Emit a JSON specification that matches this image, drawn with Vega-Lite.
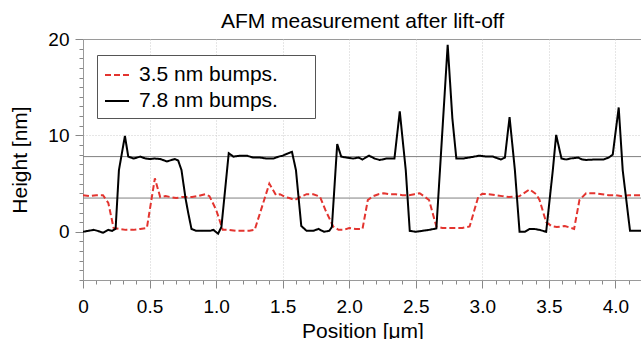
{
  "$schema": "https://vega.github.io/schema/vega-lite/v6.json",
  "width": 559,
  "height": 241,
  "autosize": {"type": "none"},
  "padding": {"left": 83, "top": 39, "right": 0, "bottom": 59},
  "background": "white",
  "title": {"text": "AFM measurement after lift-off", "fontSize": 21, "font": "Liberation Sans", "fontWeight": "normal", "color": "black", "offset": -2, "anchor": "middle"},
  "config": {
    "view": {"stroke": "#9a9a9a", "strokeWidth": 1},
    "font": "Liberation Sans",
    "axis": {"domainColor": "#9a9a9a", "tickColor": "#888888", "labelColor": "black", "labelFontSize": 19, "titleFontSize": 21, "titleFontWeight": "normal", "titleColor": "black", "gridColor": "#cccccc", "gridDash": [1, 2], "gridWidth": 1}
  },
  "datasets": {
    "ref": [{"y": 7.8}, {"y": 3.5}],
    "profiles": [
      {"series": "3.5 nm bumps.", "x": 0, "y": 3.8},
      {"series": "3.5 nm bumps.", "x": 0.05, "y": 3.7},
      {"series": "3.5 nm bumps.", "x": 0.1, "y": 3.8},
      {"series": "3.5 nm bumps.", "x": 0.15, "y": 3.8},
      {"series": "3.5 nm bumps.", "x": 0.19, "y": 3.0},
      {"series": "3.5 nm bumps.", "x": 0.23, "y": 0.4},
      {"series": "3.5 nm bumps.", "x": 0.27, "y": 0.3},
      {"series": "3.5 nm bumps.", "x": 0.32, "y": 0.2},
      {"series": "3.5 nm bumps.", "x": 0.38, "y": 0.2},
      {"series": "3.5 nm bumps.", "x": 0.43, "y": 0.3},
      {"series": "3.5 nm bumps.", "x": 0.48, "y": 0.4},
      {"series": "3.5 nm bumps.", "x": 0.54, "y": 5.55},
      {"series": "3.5 nm bumps.", "x": 0.58, "y": 3.6},
      {"series": "3.5 nm bumps.", "x": 0.62, "y": 3.7},
      {"series": "3.5 nm bumps.", "x": 0.66, "y": 3.6},
      {"series": "3.5 nm bumps.", "x": 0.7, "y": 3.5},
      {"series": "3.5 nm bumps.", "x": 0.74, "y": 3.6},
      {"series": "3.5 nm bumps.", "x": 0.78, "y": 3.6},
      {"series": "3.5 nm bumps.", "x": 0.82, "y": 3.6},
      {"series": "3.5 nm bumps.", "x": 0.86, "y": 3.7},
      {"series": "3.5 nm bumps.", "x": 0.92, "y": 3.9},
      {"series": "3.5 nm bumps.", "x": 0.95, "y": 3.7},
      {"series": "3.5 nm bumps.", "x": 1.0, "y": 2.3},
      {"series": "3.5 nm bumps.", "x": 1.05, "y": 0.2},
      {"series": "3.5 nm bumps.", "x": 1.1, "y": 0.2},
      {"series": "3.5 nm bumps.", "x": 1.15, "y": 0.1},
      {"series": "3.5 nm bumps.", "x": 1.2, "y": 0.1},
      {"series": "3.5 nm bumps.", "x": 1.25, "y": 0.1},
      {"series": "3.5 nm bumps.", "x": 1.29, "y": 0.2},
      {"series": "3.5 nm bumps.", "x": 1.4, "y": 5.0},
      {"series": "3.5 nm bumps.", "x": 1.45, "y": 3.8},
      {"series": "3.5 nm bumps.", "x": 1.48, "y": 3.9},
      {"series": "3.5 nm bumps.", "x": 1.52, "y": 3.6},
      {"series": "3.5 nm bumps.", "x": 1.55, "y": 3.5},
      {"series": "3.5 nm bumps.", "x": 1.59, "y": 3.3},
      {"series": "3.5 nm bumps.", "x": 1.63, "y": 3.6},
      {"series": "3.5 nm bumps.", "x": 1.68, "y": 3.9},
      {"series": "3.5 nm bumps.", "x": 1.73, "y": 3.9},
      {"series": "3.5 nm bumps.", "x": 1.78, "y": 3.65},
      {"series": "3.5 nm bumps.", "x": 1.82, "y": 2.3},
      {"series": "3.5 nm bumps.", "x": 1.88, "y": 0.55},
      {"series": "3.5 nm bumps.", "x": 1.92, "y": 0.2},
      {"series": "3.5 nm bumps.", "x": 1.96, "y": 0.2},
      {"series": "3.5 nm bumps.", "x": 2.0, "y": 0.4},
      {"series": "3.5 nm bumps.", "x": 2.05, "y": 0.3},
      {"series": "3.5 nm bumps.", "x": 2.1, "y": 0.3},
      {"series": "3.5 nm bumps.", "x": 2.14, "y": 3.3},
      {"series": "3.5 nm bumps.", "x": 2.18, "y": 3.7},
      {"series": "3.5 nm bumps.", "x": 2.22, "y": 3.9},
      {"series": "3.5 nm bumps.", "x": 2.26, "y": 4.0},
      {"series": "3.5 nm bumps.", "x": 2.3, "y": 3.9},
      {"series": "3.5 nm bumps.", "x": 2.35, "y": 3.9},
      {"series": "3.5 nm bumps.", "x": 2.4, "y": 3.8},
      {"series": "3.5 nm bumps.", "x": 2.45, "y": 3.8},
      {"series": "3.5 nm bumps.", "x": 2.49, "y": 3.9},
      {"series": "3.5 nm bumps.", "x": 2.53, "y": 4.0},
      {"series": "3.5 nm bumps.", "x": 2.56, "y": 3.7},
      {"series": "3.5 nm bumps.", "x": 2.6, "y": 3.3},
      {"series": "3.5 nm bumps.", "x": 2.655, "y": 0.55},
      {"series": "3.5 nm bumps.", "x": 2.7, "y": 0.4},
      {"series": "3.5 nm bumps.", "x": 2.75, "y": 0.4},
      {"series": "3.5 nm bumps.", "x": 2.8, "y": 0.4},
      {"series": "3.5 nm bumps.", "x": 2.85, "y": 0.4},
      {"series": "3.5 nm bumps.", "x": 2.905, "y": 0.55},
      {"series": "3.5 nm bumps.", "x": 2.97, "y": 3.65},
      {"series": "3.5 nm bumps.", "x": 3.0, "y": 3.95},
      {"series": "3.5 nm bumps.", "x": 3.05, "y": 3.9},
      {"series": "3.5 nm bumps.", "x": 3.1, "y": 3.8},
      {"series": "3.5 nm bumps.", "x": 3.15, "y": 3.7},
      {"series": "3.5 nm bumps.", "x": 3.2, "y": 3.6},
      {"series": "3.5 nm bumps.", "x": 3.28, "y": 3.7},
      {"series": "3.5 nm bumps.", "x": 3.355, "y": 4.4},
      {"series": "3.5 nm bumps.", "x": 3.405, "y": 3.9},
      {"series": "3.5 nm bumps.", "x": 3.43, "y": 3.3},
      {"series": "3.5 nm bumps.", "x": 3.48, "y": 1.0},
      {"series": "3.5 nm bumps.", "x": 3.52, "y": 0.6},
      {"series": "3.5 nm bumps.", "x": 3.56, "y": 0.5},
      {"series": "3.5 nm bumps.", "x": 3.62, "y": 0.6},
      {"series": "3.5 nm bumps.", "x": 3.69, "y": 0.3},
      {"series": "3.5 nm bumps.", "x": 3.73, "y": 3.3},
      {"series": "3.5 nm bumps.", "x": 3.78, "y": 4.0},
      {"series": "3.5 nm bumps.", "x": 3.85, "y": 4.0},
      {"series": "3.5 nm bumps.", "x": 3.9, "y": 3.9},
      {"series": "3.5 nm bumps.", "x": 3.95, "y": 3.8},
      {"series": "3.5 nm bumps.", "x": 4.0, "y": 3.8},
      {"series": "3.5 nm bumps.", "x": 4.05, "y": 3.7},
      {"series": "3.5 nm bumps.", "x": 4.1, "y": 3.8},
      {"series": "3.5 nm bumps.", "x": 4.15, "y": 3.8},
      {"series": "3.5 nm bumps.", "x": 4.22, "y": 3.8},
      {"series": "7.8 nm bumps.", "x": 0, "y": 0.0},
      {"series": "7.8 nm bumps.", "x": 0.04, "y": 0.1},
      {"series": "7.8 nm bumps.", "x": 0.08, "y": 0.2},
      {"series": "7.8 nm bumps.", "x": 0.11, "y": 0.1},
      {"series": "7.8 nm bumps.", "x": 0.15, "y": -0.1},
      {"series": "7.8 nm bumps.", "x": 0.19, "y": 0.2},
      {"series": "7.8 nm bumps.", "x": 0.22, "y": 0.1},
      {"series": "7.8 nm bumps.", "x": 0.245, "y": 0.3},
      {"series": "7.8 nm bumps.", "x": 0.27, "y": 6.4},
      {"series": "7.8 nm bumps.", "x": 0.315, "y": 9.95},
      {"series": "7.8 nm bumps.", "x": 0.34, "y": 7.8},
      {"series": "7.8 nm bumps.", "x": 0.38, "y": 7.6},
      {"series": "7.8 nm bumps.", "x": 0.43, "y": 7.8},
      {"series": "7.8 nm bumps.", "x": 0.47, "y": 7.6},
      {"series": "7.8 nm bumps.", "x": 0.5, "y": 7.55},
      {"series": "7.8 nm bumps.", "x": 0.54, "y": 7.6},
      {"series": "7.8 nm bumps.", "x": 0.58, "y": 7.55},
      {"series": "7.8 nm bumps.", "x": 0.63, "y": 7.3},
      {"series": "7.8 nm bumps.", "x": 0.69, "y": 7.55},
      {"series": "7.8 nm bumps.", "x": 0.715, "y": 7.4},
      {"series": "7.8 nm bumps.", "x": 0.74, "y": 6.4},
      {"series": "7.8 nm bumps.", "x": 0.77, "y": 3.5},
      {"series": "7.8 nm bumps.", "x": 0.79, "y": 2.0},
      {"series": "7.8 nm bumps.", "x": 0.815, "y": 0.3},
      {"series": "7.8 nm bumps.", "x": 0.85, "y": 0.1},
      {"series": "7.8 nm bumps.", "x": 0.88, "y": 0.1},
      {"series": "7.8 nm bumps.", "x": 0.92, "y": 0.1},
      {"series": "7.8 nm bumps.", "x": 0.955, "y": 0.1},
      {"series": "7.8 nm bumps.", "x": 0.98, "y": 0.2},
      {"series": "7.8 nm bumps.", "x": 1.015, "y": -0.2},
      {"series": "7.8 nm bumps.", "x": 1.04, "y": 0.5},
      {"series": "7.8 nm bumps.", "x": 1.095, "y": 8.15},
      {"series": "7.8 nm bumps.", "x": 1.13, "y": 7.8},
      {"series": "7.8 nm bumps.", "x": 1.18, "y": 7.9},
      {"series": "7.8 nm bumps.", "x": 1.23, "y": 7.9},
      {"series": "7.8 nm bumps.", "x": 1.28, "y": 7.7},
      {"series": "7.8 nm bumps.", "x": 1.33, "y": 7.7},
      {"series": "7.8 nm bumps.", "x": 1.38, "y": 7.6},
      {"series": "7.8 nm bumps.", "x": 1.43, "y": 7.6},
      {"series": "7.8 nm bumps.", "x": 1.47, "y": 7.8},
      {"series": "7.8 nm bumps.", "x": 1.5, "y": 7.9},
      {"series": "7.8 nm bumps.", "x": 1.57, "y": 8.3},
      {"series": "7.8 nm bumps.", "x": 1.6, "y": 6.4},
      {"series": "7.8 nm bumps.", "x": 1.64, "y": 0.6},
      {"series": "7.8 nm bumps.", "x": 1.68, "y": 0.1},
      {"series": "7.8 nm bumps.", "x": 1.73, "y": 0.1},
      {"series": "7.8 nm bumps.", "x": 1.77, "y": 0.3},
      {"series": "7.8 nm bumps.", "x": 1.81, "y": 0.0},
      {"series": "7.8 nm bumps.", "x": 1.85, "y": 0.1},
      {"series": "7.8 nm bumps.", "x": 1.87, "y": 0.5},
      {"series": "7.8 nm bumps.", "x": 1.91, "y": 9.1},
      {"series": "7.8 nm bumps.", "x": 1.94, "y": 7.8},
      {"series": "7.8 nm bumps.", "x": 1.98, "y": 7.7},
      {"series": "7.8 nm bumps.", "x": 2.03, "y": 7.6},
      {"series": "7.8 nm bumps.", "x": 2.07, "y": 7.7},
      {"series": "7.8 nm bumps.", "x": 2.1, "y": 7.5},
      {"series": "7.8 nm bumps.", "x": 2.15, "y": 7.9},
      {"series": "7.8 nm bumps.", "x": 2.19, "y": 7.6},
      {"series": "7.8 nm bumps.", "x": 2.23, "y": 7.45},
      {"series": "7.8 nm bumps.", "x": 2.28, "y": 7.6},
      {"series": "7.8 nm bumps.", "x": 2.34, "y": 7.6},
      {"series": "7.8 nm bumps.", "x": 2.38, "y": 12.5},
      {"series": "7.8 nm bumps.", "x": 2.425, "y": 6.4},
      {"series": "7.8 nm bumps.", "x": 2.455, "y": 0.1},
      {"series": "7.8 nm bumps.", "x": 2.5, "y": 0.0},
      {"series": "7.8 nm bumps.", "x": 2.55, "y": 0.1},
      {"series": "7.8 nm bumps.", "x": 2.6, "y": 0.2},
      {"series": "7.8 nm bumps.", "x": 2.655, "y": 0.35},
      {"series": "7.8 nm bumps.", "x": 2.74, "y": 19.4},
      {"series": "7.8 nm bumps.", "x": 2.775, "y": 11.8},
      {"series": "7.8 nm bumps.", "x": 2.805, "y": 7.6},
      {"series": "7.8 nm bumps.", "x": 2.855, "y": 7.6},
      {"series": "7.8 nm bumps.", "x": 2.9, "y": 7.7},
      {"series": "7.8 nm bumps.", "x": 2.94, "y": 7.8},
      {"series": "7.8 nm bumps.", "x": 2.98, "y": 7.9},
      {"series": "7.8 nm bumps.", "x": 3.03, "y": 7.8},
      {"series": "7.8 nm bumps.", "x": 3.08, "y": 7.8},
      {"series": "7.8 nm bumps.", "x": 3.14, "y": 7.5},
      {"series": "7.8 nm bumps.", "x": 3.17, "y": 7.7},
      {"series": "7.8 nm bumps.", "x": 3.205, "y": 11.9},
      {"series": "7.8 nm bumps.", "x": 3.245, "y": 6.4},
      {"series": "7.8 nm bumps.", "x": 3.28, "y": 0.0},
      {"series": "7.8 nm bumps.", "x": 3.32, "y": 0.0},
      {"series": "7.8 nm bumps.", "x": 3.355, "y": 0.3},
      {"series": "7.8 nm bumps.", "x": 3.39, "y": 0.3},
      {"series": "7.8 nm bumps.", "x": 3.43, "y": 0.2},
      {"series": "7.8 nm bumps.", "x": 3.48, "y": 0.0},
      {"series": "7.8 nm bumps.", "x": 3.53, "y": 6.4},
      {"series": "7.8 nm bumps.", "x": 3.555, "y": 10.05},
      {"series": "7.8 nm bumps.", "x": 3.595, "y": 7.6},
      {"series": "7.8 nm bumps.", "x": 3.63, "y": 7.5},
      {"series": "7.8 nm bumps.", "x": 3.66, "y": 7.6},
      {"series": "7.8 nm bumps.", "x": 3.72, "y": 7.7},
      {"series": "7.8 nm bumps.", "x": 3.75, "y": 7.5},
      {"series": "7.8 nm bumps.", "x": 3.78, "y": 7.45},
      {"series": "7.8 nm bumps.", "x": 3.84, "y": 7.5},
      {"series": "7.8 nm bumps.", "x": 3.91, "y": 7.5},
      {"series": "7.8 nm bumps.", "x": 3.95, "y": 7.7},
      {"series": "7.8 nm bumps.", "x": 3.98, "y": 8.0},
      {"series": "7.8 nm bumps.", "x": 4.025, "y": 12.9},
      {"series": "7.8 nm bumps.", "x": 4.055, "y": 6.4},
      {"series": "7.8 nm bumps.", "x": 4.11, "y": 0.1},
      {"series": "7.8 nm bumps.", "x": 4.15, "y": 0.1},
      {"series": "7.8 nm bumps.", "x": 4.22, "y": 0.1}
    ]
  },
  "encoding": {
    "y": {
      "field": "y",
      "type": "quantitative",
      "scale": {"domain": [-5, 20], "nice": false, "zero": false},
      "axis": {
        "title": "Height [nm]",
        "values": [-5, -4, -3, -2, -1, 0, 1, 2, 3, 4, 5, 6, 7, 8, 9, 10, 11, 12, 13, 14, 15, 16, 17, 18, 19, 20],
        "labelExpr": "datum.value % 10 == 0 ? datum.label : ''",
        "tickSize": {"condition": {"test": "datum.value % 10 == 0", "value": 8}, "value": 4},
        "labelPadding": 6,
        "titlePadding": 17,
        "gridOpacity": {"condition": {"test": "datum.value == 10", "value": 1}, "value": 0}
      }
    }
  },
  "layer": [
    {
      "data": {"name": "ref"},
      "mark": {"type": "rule", "color": "#808080", "strokeWidth": 1}
    },
    {
      "data": {"name": "profiles"},
      "mark": {"type": "line", "strokeWidth": 2, "clip": true},
      "encoding": {
        "x": {
          "field": "x",
          "type": "quantitative",
          "scale": {"domain": [0, 4.2], "nice": false, "zero": false},
          "axis": {
            "title": "Position [μm]",
            "values": [0, 0.1, 0.2, 0.3, 0.4, 0.5, 0.6, 0.7, 0.8, 0.9, 1.0, 1.1, 1.2, 1.3, 1.4, 1.5, 1.6, 1.7, 1.8, 1.9, 2.0, 2.1, 2.2, 2.3, 2.4, 2.5, 2.6, 2.7, 2.8, 2.9, 3.0, 3.1, 3.2, 3.3, 3.4, 3.5, 3.6, 3.7, 3.8, 3.9, 4.0, 4.1, 4.2],
            "labelExpr": "abs(datum.value * 2 - round(datum.value * 2)) < 0.001 ? (datum.value == 0 ? '0' : format(datum.value, '.1f')) : ''",
            "tickSize": {"condition": {"test": "abs(datum.value * 2 - round(datum.value * 2)) < 0.001", "value": 8}, "value": 4},
            "labelPadding": 9,
            "titlePadding": 4,
            "labelFlush": false,
            "labelOverlap": false,
            "gridOpacity": {"condition": {"test": "abs(datum.value * 2 - round(datum.value * 2)) < 0.001 && datum.value > 0", "value": 1}, "value": 0}
          }
        },
        "color": {
          "field": "series",
          "type": "nominal",
          "scale": {"domain": ["3.5 nm bumps.", "7.8 nm bumps."], "range": ["#e3342f", "#000000"]},
          "legend": {
            "orient": "none",
            "legendX": 14,
            "legendY": 16,
            "title": null,
            "strokeColor": "#555555",
            "fillColor": "white",
            "padding": 7,
            "rowPadding": 3,
            "labelFontSize": 21,
            "labelFont": "Liberation Sans",
            "labelColor": "black",
            "labelOffset": 9,
            "labelLimit": 400,
            "symbolType": "stroke",
            "symbolSize": 576,
            "symbolStrokeWidth": 2,
            "labelExpr": "datum.label + '\u2800\u2800'"
          }
        },
        "strokeDash": {
          "field": "series",
          "type": "nominal",
          "scale": {"domain": ["3.5 nm bumps.", "7.8 nm bumps."], "range": [[6, 3], [1, 0]]},
          "legend": null
        }
      }
    }
  ]
}
